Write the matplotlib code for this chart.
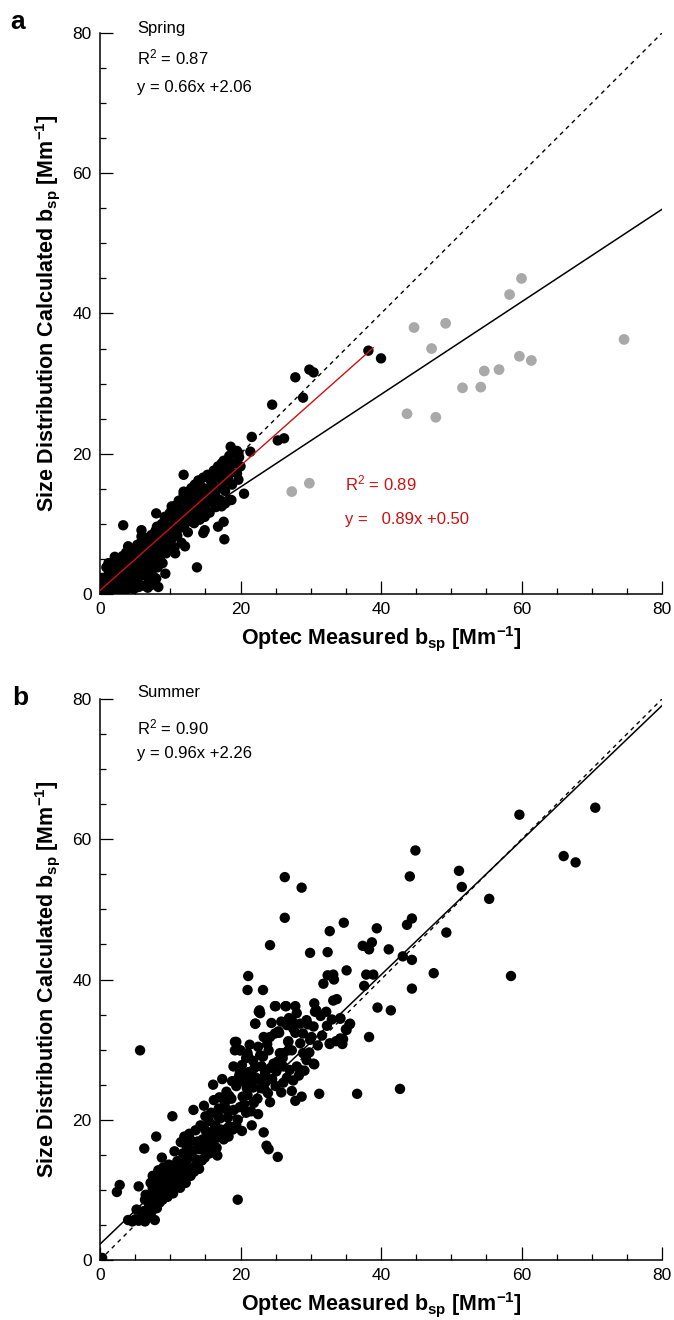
import matplotlib
matplotlib.use('Agg')
import matplotlib.pyplot as plt
from matplotlib.ticker import MultipleLocator

plt.rcParams['font.family'] = ['Liberation Sans', 'DejaVu Sans']
plt.rcParams['mathtext.fontset'] = 'custom'
plt.rcParams['mathtext.rm'] = 'Liberation Sans'
plt.rcParams['mathtext.it'] = 'Liberation Sans:italic'
plt.rcParams['mathtext.bf'] = 'Liberation Sans:bold'

# ---------------- Panel a (Spring) ----------------
spring_x = [
    0.2, 0.4, 0.5, 0.7, 0.8, 1.0, 1.1, 1.2, 1.3, 1.5,
    1.6, 1.7, 1.9, 2.0, 2.1, 2.2, 2.3, 2.4, 2.5, 2.6,
    2.7, 2.8, 2.9, 3.0, 3.1, 3.2, 3.3, 3.4, 3.5, 3.6,
    3.7, 3.8, 3.9, 4.0, 4.1, 4.2, 4.3, 4.4, 4.5, 4.6,
    4.7, 4.8, 4.9, 5.0, 5.1, 5.2, 5.3, 5.4, 5.5, 5.6,
    5.7, 5.8, 5.9, 6.0, 6.1, 6.2, 6.3, 6.4, 6.5, 6.6,
    6.7, 6.8, 6.9, 7.0, 7.1, 7.2, 7.3, 7.4, 7.5, 7.6,
    7.7, 7.8, 7.9, 8.0, 8.1, 8.2, 8.3, 8.4, 8.5, 8.6,
    8.7, 8.8, 8.9, 9.0, 9.1, 9.2, 9.3, 9.4, 9.5, 9.6,
    9.7, 9.8, 9.9, 10.0, 10.1, 10.2, 10.3, 10.4, 10.5, 10.6,
    10.7, 10.8, 10.9, 11.0, 11.1, 11.2, 11.3, 11.4, 11.5, 11.6,
    11.7, 11.8, 11.9, 12.0, 12.1, 12.2, 12.3, 12.4, 12.5, 12.6,
    12.7, 12.8, 12.9, 13.0, 13.1, 13.2, 13.3, 13.4, 13.5, 13.6,
    13.7, 13.8, 13.9, 14.0, 14.1, 14.2, 14.3, 14.4, 14.5, 14.6,
    14.7, 14.9, 15.0, 15.2, 15.3, 15.5, 15.6, 15.8, 15.9, 16.1,
    16.2, 16.4, 16.5, 16.7, 16.8, 17.0, 17.1, 17.3, 17.5, 17.6,
    17.8, 18.0, 18.2, 18.4, 18.6, 18.8, 19.0, 19.3, 19.5, 19.8,
    20.0, 21.6, 25.3, 26.2, 18.6, 19.5, 21.4, 17.3, 11.9, 20.5,
    3.3, 13.8, 9.3, 17.7, 17.6, 16.8, 14.7, 14.9, 5.9, 8.0,
    18.5, 17.8, 15.7, 13.5, 38.2, 40.0, 27.8, 29.8, 30.4, 28.9,
    24.5, 18.7,
    1.2, 2.1, 4.0, 5.9, 8.1, 10.2, 11.9, 17.3, 18.7, 19.7,
    5.5, 6.8, 7.3, 4.8, 3.6, 8.0, 7.0, 8.3, 10.7, 12.1,
    13.5, 14.9, 17.3, 19.7, 0.3, 0.9,
]
spring_y = [
    0.3, 1.0, 0.2, 1.8, 0.6, 2.5, 1.2, 0.3, 3.4, 1.8,
    0.8, 4.2, 2.6, 1.2, 3.3, 0.5, 5.0, 2.0, 3.9, 1.0,
    2.8, 4.5, 1.6, 3.4, 0.6, 5.4, 2.3, 4.1, 1.2, 3.0,
    5.9, 2.0, 4.6, 3.5, 1.4, 5.2, 2.7, 6.4, 3.9, 1.8,
    4.8, 3.0, 6.0, 2.3, 5.4, 4.1, 7.0, 1.5, 3.3, 6.2,
    4.6, 2.6, 7.5, 5.2, 3.8, 1.2, 6.6, 4.4, 8.0, 2.9,
    5.6, 7.1, 1.6, 4.8, 6.3, 3.6, 8.4, 5.5, 7.5, 2.5,
    6.6, 4.5, 9.0, 5.9, 7.9, 3.8, 6.9, 9.4, 5.0, 8.2,
    7.2, 10.0, 4.4, 6.3, 8.8, 11.0, 7.4, 5.8, 9.6, 10.6,
    8.1, 6.9, 11.5, 9.2, 7.6, 12.0, 10.3, 8.6, 11.1, 6.6,
    9.8, 12.6, 10.7, 8.3, 11.7, 13.3, 9.4, 12.2, 10.2, 7.3,
    13.0, 11.3, 14.2, 9.8, 12.7, 10.9, 13.8, 11.8, 8.8, 14.6,
    12.3, 10.4, 13.3, 15.1, 11.5, 12.9, 14.0, 10.1, 15.6, 12.2,
    13.6, 11.0, 14.8, 16.2, 12.8, 10.6, 13.9, 15.3, 11.9, 14.4,
    16.6, 12.6, 15.0, 13.6, 17.0, 14.3, 11.6, 16.1, 13.2, 15.4,
    17.6, 14.1, 12.4, 16.6, 18.2, 15.1, 13.4, 17.2, 15.9, 19.0,
    14.7, 18.0, 16.5, 19.7, 17.4, 15.6, 18.6, 20.2, 17.2, 19.5,
    18.2, 22.4, 21.9, 22.2, 21.0, 20.4, 20.3, 18.6, 17.0, 14.3,
    9.8, 3.8, 2.9, 7.8, 10.3, 9.6, 8.7, 9.1, 9.1, 11.5,
    13.4, 12.9, 16.7, 15.5, 34.7, 33.6, 30.9, 32.0, 31.6, 28.0,
    27.0, 13.4,
    4.4, 5.3, 6.8, 8.2, 9.6, 12.5, 14.6, 17.7, 18.6, 20.1,
    1.0, 0.9, 1.3, 0.7, 0.4, 2.2, 2.0, 1.0, 5.8, 6.8,
    10.6, 11.0, 12.5, 16.3, 2.3, 3.8,
]
# excluded (grey) points
spring_excl_x = [27.3, 29.8, 43.7, 47.8, 44.7, 49.2, 47.2, 51.6, 54.2, 54.7,
                 56.8, 59.7, 61.4, 58.3, 60.0, 74.6]
spring_excl_y = [14.6, 15.8, 25.7, 25.2, 38.0, 38.6, 35.0, 29.4, 29.5, 31.8,
                 32.0, 33.9, 33.3, 42.7, 45.0, 36.3]

spring_fit_all = (0.66, 2.06)      # slope, intercept (all points)
spring_fit_sub = (0.89, 0.50)      # slope, intercept (black points)
spring_sub_range = [0.0, 38.9]

# ---------------- Panel b (Summer) ----------------
summer_x = [
    0.3, 2.4, 2.8, 5.5, 4.0, 4.6, 5.0, 5.5, 5.9, 6.4,
    7.8, 6.3, 7.0, 6.4, 7.8, 8.5, 7.3, 8.7, 6.5, 7.5,
    8.3, 9.2, 7.2, 8.0, 8.8, 9.6, 10.2, 10.8, 9.0, 9.8,
    10.6, 11.4, 8.3, 10.0, 9.4, 10.8, 11.5, 11.0, 7.5, 8.8,
    12.0, 12.5, 11.8, 12.8, 13.3, 13.8, 12.3, 13.0, 14.2, 14.6,
    11.5, 12.7, 13.6, 14.0, 10.6, 13.4, 14.5, 11.2, 12.6, 10.3,
    13.3, 8.0, 6.3, 15.0, 15.5, 15.2, 16.0, 16.4, 15.8, 16.8,
    17.2, 17.5, 16.2, 16.1, 17.0, 17.8, 18.2, 17.6, 16.6, 18.5,
    15.0, 14.8, 18.0, 18.7, 19.0, 17.4, 19.4, 16.7, 15.6, 19.6,
    19.2, 19.2, 20.0, 19.8, 20.2, 20.5, 21.0, 20.5, 19.6, 21.5,
    21.8, 21.2, 20.8, 22.0, 22.4, 21.6, 20.2, 22.5, 21.0, 19.0,
    22.1, 22.6, 22.5, 23.0, 23.3, 24.2, 23.5, 24.0, 24.7, 25.1,
    25.6, 25.5, 24.9, 23.4, 24.2, 25.0, 25.8, 23.2, 24.5, 25.0,
    26.4, 27.8, 23.3, 23.7, 24.0, 25.3, 31.2, 27.8, 28.7, 27.3,
    26.1, 30.5, 32.7, 34.4, 34.6, 34.2, 35.1, 35.6, 25.4, 26.8,
    26.8, 26.1, 19.4, 19.9, 21.3, 22.5, 26.8, 21.1, 27.3, 28.5,
    28.9, 29.4, 30.4, 28.0, 26.1, 23.0, 21.6, 19.9, 23.5, 27.0,
    28.5, 27.3, 28.0, 28.5, 29.4, 30.4, 28.9, 29.9, 27.5, 26.6,
    30.6, 22.7, 22.8, 24.9, 26.5, 30.5, 32.2, 30.8, 22.1, 39.5,
    41.4, 34.2, 35.5, 35.0, 38.3, 32.7, 34.5, 34.2, 36.6, 42.7,
    21.1, 21.0, 23.2, 35.1, 32.4, 33.2, 33.3, 31.8, 37.9, 38.9,
    37.6, 47.5, 44.4, 33.2, 33.7, 24.2, 34.7, 32.7, 39.4, 43.7,
    44.4, 49.3, 37.4, 38.7, 38.3, 41.1, 29.9, 32.4, 43.1, 44.4,
    26.3, 28.7, 26.3, 44.9, 44.1, 51.1, 51.5, 55.4, 59.7, 70.5,
    66.0, 67.7, 58.5, 0.2, 5.7,
    5.2, 6.0, 6.8, 7.4, 8.1, 8.9, 9.6, 10.4, 9.1, 9.9,
    10.9, 11.8, 12.2, 11.4, 12.9, 13.5, 14.1, 14.9, 15.4, 15.9,
    16.5, 17.0, 17.8, 18.3, 18.9, 19.4, 19.9, 20.3, 20.9, 21.4,
    22.2, 22.9, 23.6, 24.3, 25.3, 26.0, 26.6, 27.5, 28.3, 29.1,
    29.8, 30.1, 31.0, 31.6, 32.3, 33.0, 33.6, 31.4, 29.6, 27.8,
    26.9, 25.8, 24.4, 23.8, 22.8, 21.8, 20.6, 19.6, 18.8, 18.0,
    17.1, 16.3, 15.7, 14.6, 13.9, 13.0, 12.2, 11.0, 10.2, 9.4,
    8.6, 7.9, 7.0, 12.0, 14.3, 16.9, 18.4, 20.8, 21.9, 23.9,
]
summer_y = [
    0.3, 9.7, 10.7, 10.5, 5.7, 5.5, 5.8, 5.6, 6.0, 5.5,
    5.7, 7.0, 7.9, 8.6, 8.5, 8.2, 9.4, 9.4, 9.3, 10.2,
    10.6, 11.0, 11.0, 11.5, 12.1, 11.8, 11.0, 12.3, 13.2, 13.6,
    13.0, 12.5, 12.8, 10.2, 9.6, 10.7, 11.4, 14.1, 12.0, 14.6,
    13.5, 14.5, 15.2, 13.0, 15.6, 14.3, 16.3, 17.0, 15.8, 17.2,
    16.8, 18.0, 18.5, 16.5, 15.5, 12.6, 14.2, 13.6, 12.0, 20.5,
    21.4, 17.6, 15.9, 18.5, 19.8, 16.6, 17.8, 19.2, 21.0, 20.5,
    18.6, 21.6, 22.8, 25.0, 23.2, 22.5, 20.3, 17.2, 16.0, 19.0,
    20.5, 22.0, 24.0, 23.0, 21.4, 25.8, 24.8, 14.9, 15.2, 8.6,
    31.1, 29.9, 29.9, 26.2, 27.8, 25.4, 23.5, 22.2, 20.0, 21.2,
    24.6, 26.8, 28.8, 27.4, 23.0, 19.2, 18.4, 20.8, 29.5, 27.6,
    33.7, 35.4, 25.8, 27.6, 31.8, 31.8, 26.6, 29.9, 28.0, 26.9,
    29.5, 32.4, 32.3, 24.4, 22.5, 24.8, 23.9, 29.0, 25.8, 36.2,
    36.2, 36.2, 18.2, 16.3, 15.8, 14.7, 23.7, 22.7, 23.3, 24.1,
    25.3, 27.9, 30.9, 31.1, 31.5, 34.5, 32.8, 33.7, 32.6, 31.1,
    29.9, 29.5, 31.1, 29.9, 30.7, 30.4, 31.2, 29.0, 29.9, 30.9,
    29.5, 28.5, 28.0, 27.6, 27.6, 27.6, 26.4, 26.6, 26.6, 27.1,
    27.1, 34.2, 35.2, 33.7, 34.2, 33.3, 32.3, 31.4, 33.0, 33.5,
    35.4, 35.6, 35.2, 36.2, 36.2, 36.6, 35.4, 35.6, 33.7, 36.0,
    35.6, 34.4, 33.6, 32.9, 31.8, 30.8, 30.8, 31.6, 23.7, 24.4,
    40.5, 38.5, 38.5, 41.3, 40.6, 40.7, 40.0, 39.4, 40.7, 40.7,
    39.1, 40.9, 38.7, 37.0, 37.2, 44.9, 48.1, 46.9, 47.3, 47.8,
    48.7, 46.7, 44.8, 45.3, 44.3, 44.3, 43.8, 43.9, 43.3, 42.8,
    54.6, 53.1, 48.8, 58.4, 54.7, 55.5, 53.2, 51.5, 63.5, 64.5,
    57.6, 56.7, 40.5, 0.2, 29.9,
    7.2, 6.6, 6.3, 7.0, 7.4, 8.6, 9.0, 9.5, 10.4, 11.2,
    11.8, 12.2, 11.0, 10.3, 12.0, 13.4, 13.0, 14.6, 15.8, 16.9,
    17.4, 17.8, 18.5, 17.6, 18.6, 19.2, 21.8, 23.3, 24.5, 25.6,
    26.0, 24.5, 25.4, 27.4, 28.3, 28.8, 26.0, 25.6, 26.3, 27.0,
    29.6, 31.8, 30.6, 32.0, 33.4, 34.3, 31.2, 34.8, 33.6, 32.4,
    34.5, 34.0, 33.8, 30.8, 29.2, 28.4, 26.6, 25.8, 25.5, 21.5,
    20.2, 18.6, 17.6, 16.0, 16.9, 15.6, 14.0, 12.9, 12.6, 12.4,
    10.8, 9.8, 8.8, 17.6, 19.2, 21.6, 23.4, 21.0, 22.4, 23.8,
]
summer_fit = (0.96, 2.26)

axis_range = [0, 80]
ticks_major = [0, 20, 40, 60, 80]

xlabel = r'Optec Measured $\mathbf{b_{sp}}$ [Mm$^{\mathbf{-1}}$]'
ylabel = r'Size Distribution Calculated $\mathbf{b_{sp}}$ [Mm$^{\mathbf{-1}}$]'

RED = '#cc1111'
GREY = '#a9a9a9'

fig = plt.figure(figsize=(6.74, 13.2), dpi=100)
ax_a = fig.add_axes([0.1484, 0.55, 0.8338, 0.425])
ax_b = fig.add_axes([0.1484, 0.04545, 0.8338, 0.425])


def style(ax):
    ax.set_xlim(axis_range)
    ax.set_ylim(axis_range)
    ax.set_xticks(ticks_major)
    ax.set_yticks(ticks_major)
    ax.xaxis.set_minor_locator(MultipleLocator(5))
    ax.yaxis.set_minor_locator(MultipleLocator(5))
    ax.tick_params(which='major', direction='in', length=9.4, width=0.9,
                   labelsize=12.5, pad=6)
    ax.tick_params(which='minor', direction='in', length=4.5, width=0.9)
    for s in ['top', 'right']:
        ax.spines[s].set_visible(False)
    for s in ['left', 'bottom']:
        ax.spines[s].set_linewidth(1.1)
    ax.set_xlabel(xlabel, fontsize=15.5, fontweight='bold')
    ax.set_ylabel(ylabel, fontsize=15.5, fontweight='bold')
    ax.xaxis.set_label_coords(0.5, -0.080)
    ax.xaxis.label.set_va('center')
    ax.yaxis.set_label_coords(-0.094, 0.5)
    ax.yaxis.label.set_va('center')


# Panel a
ax = ax_a
style(ax)
ax.plot(axis_range, axis_range, color='black', lw=1.0, ls=(0, (3, 3)), zorder=1)
ax.plot(axis_range, [spring_fit_all[0] * v + spring_fit_all[1] for v in axis_range],
        color='black', lw=1.1, zorder=1)
ax.scatter(spring_excl_x, spring_excl_y, s=60, color=GREY, edgecolors='none', zorder=2)
ax.scatter(spring_x, spring_y, s=56, color='black', edgecolors='none', zorder=3)
ax.plot(spring_sub_range, [spring_fit_sub[0] * v + spring_fit_sub[1] for v in spring_sub_range],
        color=RED, lw=1.0, zorder=4)
ax.text(5.3, 80.6, 'Spring', fontsize=12, va='center')
ax.text(5.3, 76.5, r'R$^2$ = 0.87', fontsize=12, va='center')
ax.text(5.3, 72.2, 'y = 0.66x +2.06', fontsize=12, va='center')
ax.text(34.9, 15.8, r'R$^2$ = 0.89', fontsize=12, va='center', color=RED)
ax.text(34.9, 10.6, 'y =   0.89x +0.50', fontsize=12, va='center', color=RED)

# Panel b
ax = ax_b
style(ax)
ax.plot(axis_range, axis_range, color='black', lw=1.0, ls=(0, (3, 3)), zorder=1)
ax.plot(axis_range, [summer_fit[0] * v + summer_fit[1] for v in axis_range],
        color='black', lw=1.1, zorder=1)
ax.scatter(summer_x, summer_y, s=56, color='black', edgecolors='none', zorder=3)
ax.text(5.3, 80.9, 'Summer', fontsize=12, va='center')
ax.text(5.3, 76.0, r'R$^2$ = 0.90', fontsize=12, va='center')
ax.text(5.3, 72.3, 'y = 0.96x +2.26', fontsize=12, va='center')

fig.text(0.015, 0.983, 'a', fontsize=19, fontweight='bold', va='center')
fig.text(0.018, 0.471, 'b', fontsize=19, fontweight='bold', va='center')

fig.savefig('out.png', dpi=100)
